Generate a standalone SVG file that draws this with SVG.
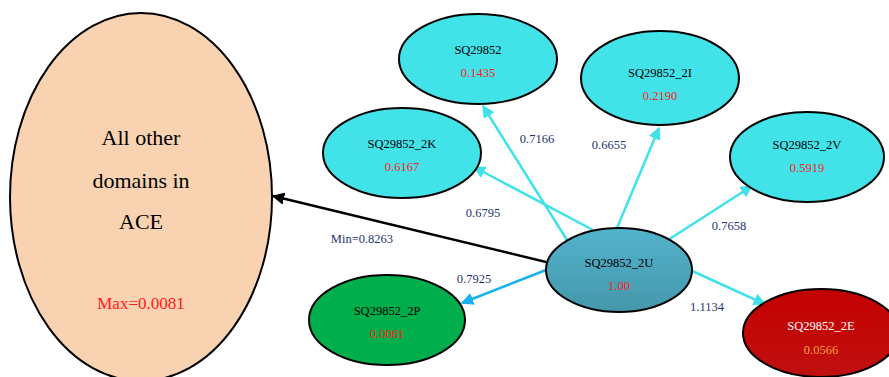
<svg xmlns="http://www.w3.org/2000/svg" width="889" height="377" viewBox="0 0 889 377">
<defs>
<style>
text{font-family:"Liberation Serif","Times New Roman","DejaVu Serif",serif}
.n{stroke:#000;stroke-width:2}
.t{font-size:12.5px;text-anchor:middle}
.v{fill:#ff1a1a}
.e{stroke-width:2.5;fill:none}
.lbl{font-size:12.5px;fill:#1e3270;text-anchor:middle}
.big{font-size:22px;text-anchor:middle}
</style>
<linearGradient id="gU" x1="0" y1="0" x2="0" y2="1"><stop offset="0" stop-color="#52b3cc"/><stop offset="1" stop-color="#4597ab"/></linearGradient>
<linearGradient id="gE" x1="0" y1="0" x2="0" y2="1"><stop offset="0" stop-color="#c40000"/><stop offset="1" stop-color="#c01010"/></linearGradient>
<marker id="ac" viewBox="0 0 10 10" refX="9" refY="5" markerWidth="5" markerHeight="5" orient="auto" markerUnits="strokeWidth"><path d="M0,0L10,5L0,10z" fill="#3fe2e8"/></marker>
<marker id="ab" viewBox="0 0 10 10" refX="9" refY="5" markerWidth="5" markerHeight="5" orient="auto" markerUnits="strokeWidth"><path d="M0,0L10,5L0,10z" fill="#1ab2ee"/></marker>
<marker id="ak" viewBox="0 0 10 10" refX="9" refY="5" markerWidth="5" markerHeight="5" orient="auto" markerUnits="strokeWidth"><path d="M0,0L10,5L0,10z" fill="#000"/></marker>
</defs>
<rect width="889" height="377" fill="#fff"/>
<g id="connectors">
<line class="e" x1="546" y1="262" x2="273" y2="196" stroke="#000" marker-end="url(#ak)"/>
<line class="e" x1="567" y1="240" x2="483" y2="106" stroke="#3fe2e8" marker-end="url(#ac)"/>
<line class="e" x1="593" y1="230" x2="474" y2="167" stroke="#3fe2e8" marker-end="url(#ac)"/>
<line class="e" x1="617" y1="228" x2="659" y2="128" stroke="#3fe2e8" marker-end="url(#ac)"/>
<line class="e" x1="668" y1="240" x2="752" y2="186" stroke="#3fe2e8" marker-end="url(#ac)"/>
<line class="e" x1="690" y1="270" x2="765" y2="304" stroke="#3fe2e8" marker-end="url(#ac)"/>
<line class="e" x1="546" y1="270" x2="462" y2="303" stroke="#1ab2ee" marker-end="url(#ab)"/>
<text class="lbl" x="537" y="143">0.7166</text>
<text class="lbl" x="483" y="217">0.6795</text>
<text class="lbl" x="609" y="149">0.6655</text>
<text class="lbl" x="729" y="230">0.7658</text>
<text class="lbl" x="707" y="311">1.1134</text>
<text class="lbl" x="474" y="283">0.7925</text>
<text class="lbl" x="362" y="243">Min=0.8263</text>
</g>
<g id="ace">
<ellipse class="n" cx="141" cy="197" rx="131" ry="184" fill="#f9d3b1"/>
<text class="big" x="141" y="145">All other</text>
<text class="big" x="141" y="188">domains in</text>
<text class="big" x="141" y="229">ACE</text>
<text x="141" y="309" font-size="17" text-anchor="middle" fill="#ff1a1a">Max=0.0081</text>
</g>
<g id="sq29852">
<ellipse class="n" cx="478" cy="59" rx="79" ry="45" fill="#42e3e8"/>
<text class="t" x="478" y="54">SQ29852</text>
<text class="t v" x="478" y="77">0.1435</text>
</g>
<g id="sq29852_2k">
<ellipse class="n" cx="402" cy="153" rx="79" ry="45" fill="#42e3e8"/>
<text class="t" x="402" y="148">SQ29852_2K</text>
<text class="t v" x="402" y="171">0.6167</text>
</g>
<g id="sq29852_2i">
<ellipse class="n" cx="660" cy="78" rx="79" ry="47" fill="#42e3e8"/>
<text class="t" x="660" y="77">SQ29852_2I</text>
<text class="t v" x="660" y="100">0.2190</text>
</g>
<g id="sq29852_2v">
<ellipse class="n" cx="807" cy="157" rx="77" ry="45" fill="#42e3e8"/>
<text class="t" x="807" y="149">SQ29852_2V</text>
<text class="t v" x="807" y="172">0.5919</text>
</g>
<g id="sq29852_2u">
<ellipse class="n" cx="619" cy="270" rx="73" ry="42" fill="url(#gU)"/>
<text class="t" x="619" y="267">SQ29852_2U</text>
<text class="t v" x="619" y="290">1.00</text>
</g>
<g id="sq29852_2p">
<ellipse class="n" cx="387" cy="320" rx="78" ry="45" fill="#00ae4c"/>
<text class="t" x="387" y="315">SQ29852_2P</text>
<text class="t v" x="387" y="338">0.0081</text>
</g>
<g id="sq29852_2e">
<ellipse class="n" cx="821" cy="333" rx="78" ry="44" fill="url(#gE)"/>
<text class="t" x="821" y="330" fill="#fff">SQ29852_2E</text>
<text class="t" x="821" y="354" fill="#f5a040">0.0566</text>
</g>
</svg>
